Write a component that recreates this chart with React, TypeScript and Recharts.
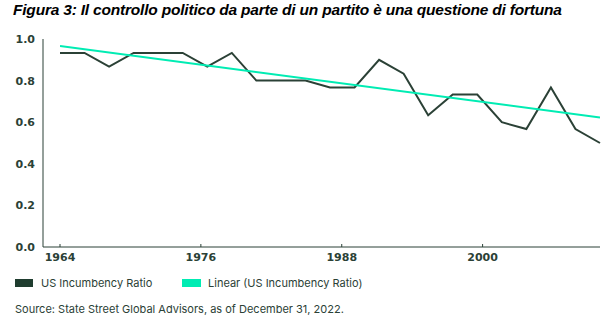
import React from "react";
import { LineChart, Line, XAxis, YAxis } from "recharts";

const years = [1964, 1966, 1968, 1970, 1972, 1974, 1976, 1978, 1980, 1982, 1984, 1986, 1988, 1990, 1992, 1994, 1996, 1998, 2000, 2002, 2004, 2006, 2008];
const ratio = [0.933, 0.933, 0.867, 0.933, 0.933, 0.933, 0.867, 0.933, 0.8, 0.8, 0.8, 0.767, 0.767, 0.9, 0.833, 0.633, 0.733, 0.733, 0.6, 0.567, 0.767, 0.567, 0.5];
const trendYears = [1964, 2010];
const trendValues = [0.966, 0.623];
const xTicks = [1964, 1976, 1988, 2000];
const xDomain = [1964, 2010];
const yTicks = [0, 0.2, 0.4, 0.6, 0.8, 1.0];

const title = "Figura 3: Il controllo politico da parte di un partito è una questione di fortuna";
const seriesName = "US Incumbency Ratio";
const trendName = "Linear (US Incumbency Ratio)";
const source = "Source: State Street Global Advisors, as of December 31, 2022.";

const DARK = "#2b4136";
const MINT = "#00ecb3";
const TEXT = "#2b4136";

const data = years.map((y, i) => ({ year: y, ratio: ratio[i] }));
const trendData = trendYears.map((t, i) => ({ t, linear: trendValues[i] }));

const XTick = (props: any) => {
  const { x, y, payload } = props;
  return (
    <g>
      <line x1={x} x2={x} y1={y - 3} y2={y} stroke={DARK} strokeWidth={1} />
      <text
        x={x}
        y={y + 14}
        textAnchor="middle"
        fill={TEXT}
        fontFamily="DejaVu Sans"
        fontWeight="bold"
        fontSize={11}
      >
        {payload.value}
      </text>
    </g>
  );
};

export default function App() {
  return (
    <div style={{ position: "absolute", left: 0, top: 0, width: 612, height: 326, background: "#fff" }}>
      <div
        style={{
          position: "absolute",
          left: 13,
          top: 1,
          fontFamily: "Liberation Sans",
          fontWeight: "bold",
          fontStyle: "italic",
          fontSize: 15.5,
          color: "#000",
          whiteSpace: "nowrap",
          letterSpacing: -0.2,
        }}
      >
        {title}
      </div>
      <div style={{ position: "absolute", left: 0, top: 0 }}>
        <LineChart
          width={612}
          height={326}
          data={data}
          margin={{ top: 39, right: 12, bottom: 59, left: 0 }}
        >
          <XAxis
            xAxisId="cat"
            dataKey="year"
            type="category"
            hide
            height={0}
            padding={{ left: 17, right: 0 }}
          />
          <XAxis
            xAxisId="yr"
            dataKey="t"
            type="number"
            domain={xDomain}
            ticks={xTicks}
            allowDataOverflow
            height={20}
            padding={{ left: 17, right: 0 }}
            axisLine={{ stroke: DARK, strokeWidth: 1 }}
            tickLine={false}
            tickSize={0}
            tickMargin={0}
            tick={<XTick />}
          />
          <YAxis
            width={43}
            domain={[0, 1]}
            ticks={yTicks}
            tickFormatter={(v: number) => v.toFixed(1)}
            axisLine={{ stroke: DARK, strokeWidth: 1 }}
            tickLine={false}
            tick={{ fill: TEXT, fontFamily: "DejaVu Sans", fontWeight: "bold", fontSize: 11 }}
          />
          <Line
            xAxisId="cat"
            dataKey="ratio"
            stroke={DARK}
            strokeWidth={2}
            dot={false}
            isAnimationActive={false}
            type="linear"
          />
          <Line
            xAxisId="yr"
            data={trendData}
            dataKey="linear"
            stroke={MINT}
            strokeWidth={2}
            dot={false}
            isAnimationActive={false}
            type="linear"
          />
        </LineChart>
      </div>
      <div
        style={{
          position: "absolute",
          top: 276,
          left: 15,
          display: "flex",
          alignItems: "center",
          fontFamily: "Inter",
          fontSize: 11,
          color: TEXT,
          whiteSpace: "nowrap",
        }}
      >
        <span style={{ flexShrink: 0, width: 18, height: 8, background: "#1f3d2f", marginRight: 8 }} />
        <span style={{ flexShrink: 0, width: 141 }}>{seriesName}</span>
        <span style={{ flexShrink: 0, width: 19, height: 8, background: MINT, marginRight: 7 }} />
        <span>{trendName}</span>
      </div>
      <div
        style={{
          position: "absolute",
          top: 302,
          left: 15,
          fontFamily: "Inter",
          fontSize: 11,
          color: TEXT,
          whiteSpace: "nowrap",
        }}
      >
        {source}
      </div>
    </div>
  );
}
